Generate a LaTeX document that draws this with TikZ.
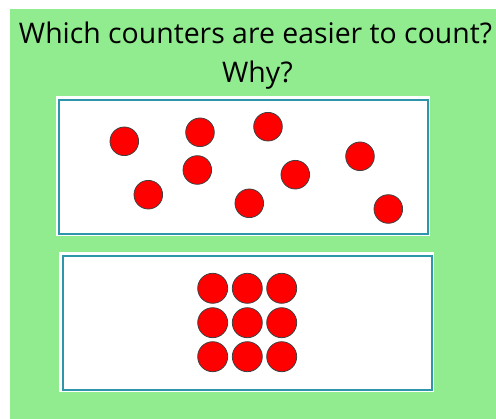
\documentclass[tikz,border=0pt]{standalone}
\usepackage{fontspec}
\setmainfont{Open Sans}
\definecolor{bggreen}{RGB}{144,236,142}
\definecolor{frameteal}{RGB}{45,150,170}
\definecolor{counterred}{RGB}{255,0,0}
\begin{document}
\begin{tikzpicture}[x=1pt,y=-1pt,
  counter/.style={circle,fill=counterred,draw=black!75,line width=0.8pt,inner sep=0pt,minimum size=28.6pt},
  gridcounter/.style={counter,minimum size=30pt},
  panel/.style={draw=frameteal,line width=1.8pt,fill=white},
  title/.style={font=\fontsize{28.4}{34}\selectfont,text=black,inner sep=0pt,anchor=base}]
\useasboundingbox (0,0) rectangle (496,419);
\fill[white] (0,0) rectangle (496,419);
\fill[bggreen] (10,9) rectangle (496,419);
% title
\node[title] (t1) at (255.5,43.3) {Which counters are easier to count?};
\node[title] (t2) at (257.5,82.7) {Why?};
% panels
\fill[white] (55.5,96.5) rectangle (430,236.5);
\node[panel,minimum width=369pt,minimum height=134pt,anchor=north west] (p1) at (58,99) {};
\fill[white] (59,252.5) rectangle (433.5,392.5);
\node[panel,minimum width=369pt,minimum height=134pt,anchor=north west] (p2) at (62,255) {};
% scattered counters
\node[counter] (a1) at (124.3,141.3) {};
\node[counter] (a2) at (200,132.3) {};
\node[counter] (a3) at (197.3,170) {};
\node[counter] (a4) at (148.3,194.7) {};
\node[counter] (a5) at (268,126.7) {};
\node[counter] (a6) at (295.3,174.7) {};
\node[counter] (a7) at (249.3,203.3) {};
\node[counter] (a8) at (360,156.3) {};
\node[counter] (a9) at (388.3,209) {};
% grid counters
\foreach \r/\y in {1/288.3,2/322.7,3/356.7}{
  \foreach \c/\x in {1/212.7,2/247.3,3/281.7}{
    \node[gridcounter] (g\r\c) at (\x,\y) {};
  }
}
\end{tikzpicture}
\end{document}
